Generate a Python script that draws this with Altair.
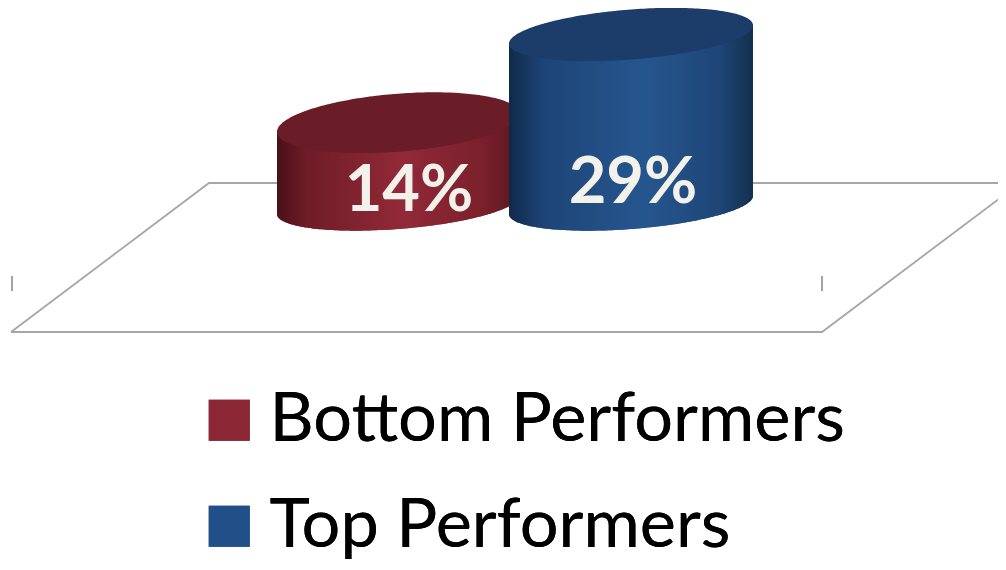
import numpy as np
import pandas as pd
import altair as alt

# --- values ---
SERIES = ["Bottom Performers", "Top Performers"]
VALUES = [14, 29]
LABELS = ["14%", "29%"]
COLORS = ["#8B2635", "#215089"]
CENTERS = [398, 631]
RADII = [121, 122]
BODY_STOPS = [
    [("#4A1018", 0), ("#6E1C27", 0.12), ("#922938", 0.52), ("#7A202C", 0.85), ("#5A1620", 1)],
    [("#10294A", 0), ("#1D4476", 0.14), ("#26568F", 0.55), ("#1E4677", 0.86), ("#14304F", 1)],
]
TOP_COLORS = ["#6A1D27", "#1C3C69"]
TOP_RY = [29, 25]
FLOOR_X = [11, 209, 1020, 822, 11]
FLOOR_Y = [332, 183, 183, 332, 332]
TICK_X = [12, 822]
TICK_Y = [276, 291]

BASE = 205
PX_PER_PCT = 5.88
SLOPE = -0.075
RY_BOTTOM = 24

X = alt.X("x:Q", axis=None, scale=alt.Scale(domain=[8, 998], nice=False, zero=False))
Y = alt.Y("y:Q", axis=None, scale=alt.Scale(domain=[568, 8], nice=False, zero=False))


def edge(cx, rx):
    t = np.linspace(np.pi, 0, 121)
    dx = rx * np.cos(t)
    return cx + dx, SLOPE * dx, np.sin(t)


layers = []
floor = pd.DataFrame({"x": FLOOR_X, "y": FLOOR_Y, "o": range(len(FLOOR_X))})
layers.append(
    alt.Chart(floor).mark_line(color="#A6A6A6", strokeWidth=1.8).encode(x=X, y=Y, order="o:Q")
)
ticks = pd.DataFrame({"x": TICK_X, "y": TICK_Y[0], "y2": TICK_Y[1]})
layers.append(
    alt.Chart(ticks).mark_rule(color="#999999", strokeWidth=1.8).encode(x=X, y=Y, y2="y2:Q")
)

color = alt.Color(
    "series:N",
    scale=alt.Scale(domain=SERIES, range=COLORS),
    legend=alt.Legend(
        title=None,
        orient="none",
        legendX=187,
        legendY=378,
        symbolType="square",
        symbolSize=1681,
        symbolStrokeWidth=0,
        symbolOpacity=1,
        labelFont="Lato",
        labelFontSize=68.5,
        labelColor="#000000",
        labelOffset=6,
        labelLimit=700,
        rowPadding=37,
        padding=0,
    ),
)

for i, name in enumerate(SERIES):
    cx, rx = CENTERS[i], RADII[i]
    xs, shear, s = edge(cx, rx)
    cy_top = BASE - VALUES[i] * PX_PER_PCT
    body = pd.DataFrame(
        {
            "x": xs,
            "y": cy_top + shear,
            "y2": BASE + shear + RY_BOTTOM * s,
            "series": name,
        }
    )
    top = pd.DataFrame(
        {
            "x": xs,
            "y": cy_top + shear - TOP_RY[i] * s,
            "y2": cy_top + shear + TOP_RY[i] * s,
        }
    )
    layers.append(
        alt.Chart(body).mark_area(interpolate="linear").encode(x=X, y=Y, y2="y2:Q", color=color)
    )
    layers.append(
        alt.Chart(body)
        .mark_area(
            interpolate="linear",
            color=alt.Gradient(
                gradient="linear",
                x1=0,
                y1=0,
                x2=1,
                y2=0,
                stops=[alt.GradientStop(color=c, offset=o) for c, o in BODY_STOPS[i]],
            ),
        )
        .encode(x=X, y=Y, y2="y2:Q")
    )
    layers.append(
        alt.Chart(top)
        .mark_area(interpolate="linear", color=TOP_COLORS[i])
        .encode(x=X, y=Y, y2="y2:Q")
    )

text = pd.DataFrame(
    {
        "x": [409, 633],
        "y": [191, 183],
        "label": LABELS,
    }
)
layers.append(
    alt.Chart(text)
    .mark_text(font="Lato", fontWeight="bold", fontSize=65, color="#F2F1EA", baseline="middle", align="center")
    .encode(x=X, y=Y, text="label:N")
)

chart = (
    alt.layer(*layers)
    .resolve_scale(color="independent")
    .properties(
        width=990,
        height=560,
        padding=0,
        autosize=alt.AutoSizeParams(type="none"),
    )
    .configure_view(stroke=None)
)
chart.save("out.html", embed_options={"renderer": "svg", "actions": False})
